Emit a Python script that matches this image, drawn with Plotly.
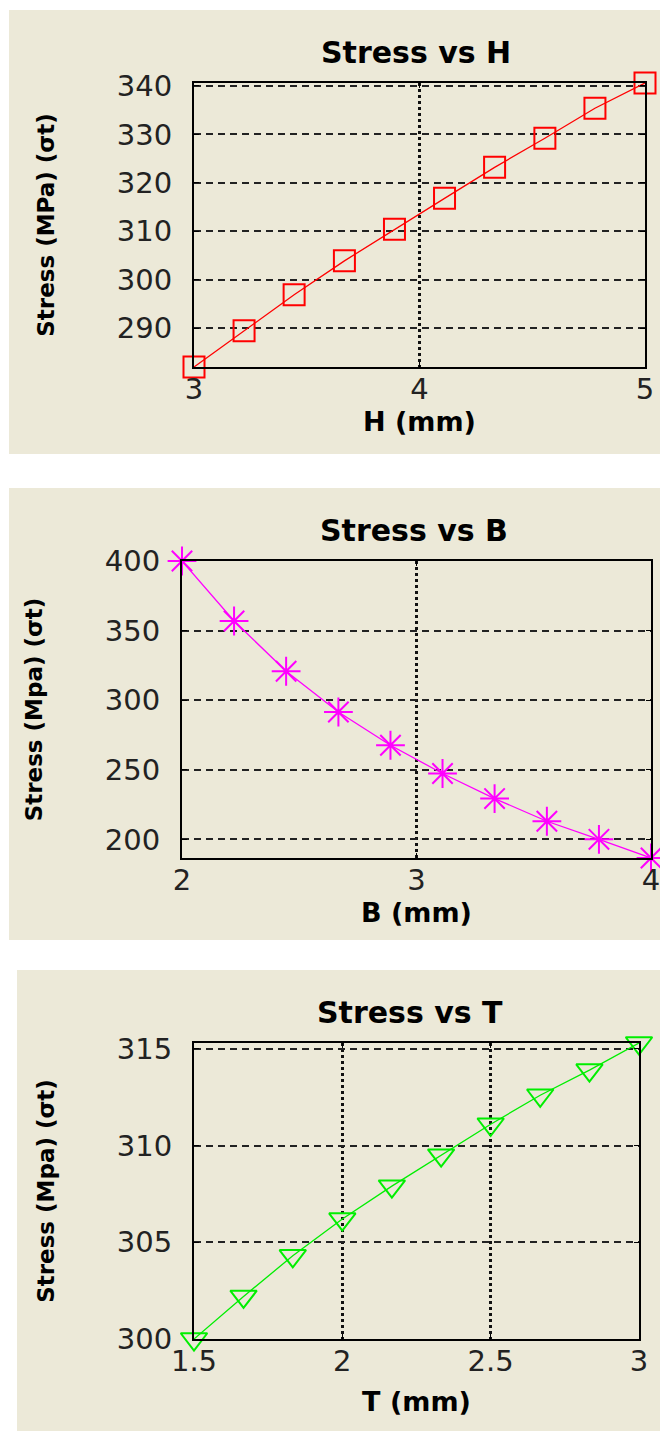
import plotly.graph_objects as go
from plotly.subplots import make_subplots

# ---------------- data ----------------
H_mm = [3.0, 3.222, 3.444, 3.667, 3.889, 4.111, 4.333, 4.556, 4.778, 5.0]
stress_H = [282.0, 289.5, 296.9, 303.9, 310.4, 316.8, 323.2, 329.2, 335.4, 340.6]

B_mm = [2.0, 2.222, 2.444, 2.667, 2.889, 3.111, 3.333, 3.556, 3.778, 4.0]
stress_B = [400.0, 356.9, 320.8, 291.5, 267.6, 247.3, 229.3, 213.0, 200.0, 186.6]

T_mm = [1.5, 1.667, 1.833, 2.0, 2.167, 2.333, 2.5, 2.667, 2.833, 3.0]
stress_T = [300.0, 302.2, 304.3, 306.2, 307.9, 309.5, 311.1, 312.6, 313.9, 315.3]

H_ticks = [3, 4, 5]
H_yticks = [290, 300, 310, 320, 330, 340]
B_ticks = [2, 3, 4]
B_yticks = [200, 250, 300, 350, 400]
T_ticks = [1.5, 2, 2.5, 3]
T_yticks = [300, 305, 310, 315]

titles = ["Stress vs H", "Stress vs B", "Stress vs T"]
xtitles = ["H (mm)", "B (mm)", "T (mm)"]
ytitles = ["Stress (MPa) (σt)", "Stress (Mpa) (σt)", "Stress (Mpa) (σt)"]

# ---------------- layout geometry ----------------
# page body has an 8px default margin; the figure is sized to fit inside it
OFF = 8
W, Hh = 668 - OFF, 1431 - OFF
BEIGE = "#ECE9D8"

def px_x(v):
    return (v - OFF) / W

def px_y(v):
    return (Hh - (v - OFF)) / Hh

plots = [
    dict(x0=194, x1=645, y0=83, y1=367),
    dict(x0=182, x1=651, y0=561, y1=858),
    dict(x0=194, x1=639, y0=1043, y1=1339),
]
panels = [
    dict(x0=9, x1=668, y0=10, y1=454),
    dict(x0=9, x1=668, y0=488, y1=940),
    dict(x0=17, x1=668, y0=970, y1=1431),
]
title_pos = [(416, 52), (414, 530), (410, 1012)]
xtitle_standoff = [6, 5, 15]

fig = make_subplots(rows=3, cols=1)

series = [
    (H_mm, stress_H, "#FF0000", "square-open", 21),
    (B_mm, stress_B, "#FF00FF", "asterisk-open", 24),
    (T_mm, stress_T, "#00EE00", "triangle-down-open", 23),
]
for i, (xs, ys, col, sym, sz) in enumerate(series):
    fig.add_trace(go.Scatter(
        x=xs, y=ys, mode="lines+markers",
        line=dict(color=col, width=1.3),
        marker=dict(symbol=sym, size=sz, color=col, line=dict(color=col, width=2)),
        cliponaxis=False, showlegend=False,
    ), row=i + 1, col=1)

xranges = [[3, 5], [2, 4], [1.5, 3]]
yranges = [[282.0, 340.6], [186.6, 400.0], [300.0, 315.3]]
xtick_sets = [H_ticks, B_ticks, T_ticks]
ytick_sets = [H_yticks, B_yticks, T_yticks]
xtick_text = [[str(v) for v in H_ticks], [str(v) for v in B_ticks], ["1.5", "2", "2.5", "3"]]

tick_font = dict(family="DejaVu Sans", size=29, color="#222222")
bold_font = dict(family="DejaVu Sans", size=27, color="#000000", weight="bold")

for i in range(3):
    p = plots[i]
    xa = "xaxis" if i == 0 else f"xaxis{i+1}"
    ya = "yaxis" if i == 0 else f"yaxis{i+1}"
    fig.layout[xa].update(
        domain=[px_x(p["x0"]), px_x(p["x1"])],
        range=xranges[i], tickvals=xtick_sets[i], ticktext=xtick_text[i],
        showgrid=True, gridcolor="#111111", gridwidth=2.5, griddash="3px,3px",
        showline=True, linecolor="#000000", linewidth=2, mirror="ticks",
        ticks="inside", ticklen=5, tickcolor="#000000", tickwidth=1,
        tickfont=tick_font, ticklabelstandoff=-5, zeroline=False,
        title=dict(text=xtitles[i], font=bold_font, standoff=xtitle_standoff[i]),
    )
    fig.layout[ya].update(
        domain=[px_y(p["y1"]), px_y(p["y0"])],
        range=yranges[i], tickvals=ytick_sets[i],
        showgrid=True, gridcolor="#222222", gridwidth=1.5, griddash="7px,5px",
        showline=True, linecolor="#000000", linewidth=2, mirror="ticks",
        ticks="inside", ticklen=5, tickcolor="#000000", tickwidth=1,
        tickfont=tick_font, ticklabelstandoff=14, zeroline=False,
        title=dict(text=ytitles[i], font=dict(family="DejaVu Sans", size=23,
                                              color="#000000", weight="bold"),
                   standoff=56),
    )

shapes = []
for pn in panels:
    shapes.append(dict(type="rect", xref="paper", yref="paper",
                       x0=px_x(pn["x0"]), x1=px_x(pn["x1"]),
                       y0=px_y(pn["y1"]), y1=px_y(pn["y0"]),
                       fillcolor=BEIGE, line=dict(width=0), layer="below"))

annotations = []
for t, (cx, cy) in zip(titles, title_pos):
    annotations.append(dict(text=t, xref="paper", yref="paper",
                            x=px_x(cx), y=px_y(cy), xanchor="center", yanchor="middle",
                            showarrow=False,
                            font=dict(family="DejaVu Sans", size=30, color="#000000",
                                      weight="bold")))

fig.update_layout(
    width=W, height=Hh,
    margin=dict(l=0, r=0, t=0, b=0, autoexpand=False),
    paper_bgcolor="#FFFFFF", plot_bgcolor="#FFFFFF",
    shapes=shapes, annotations=annotations,
    showlegend=False,
)

fig.write_html("out.html")
